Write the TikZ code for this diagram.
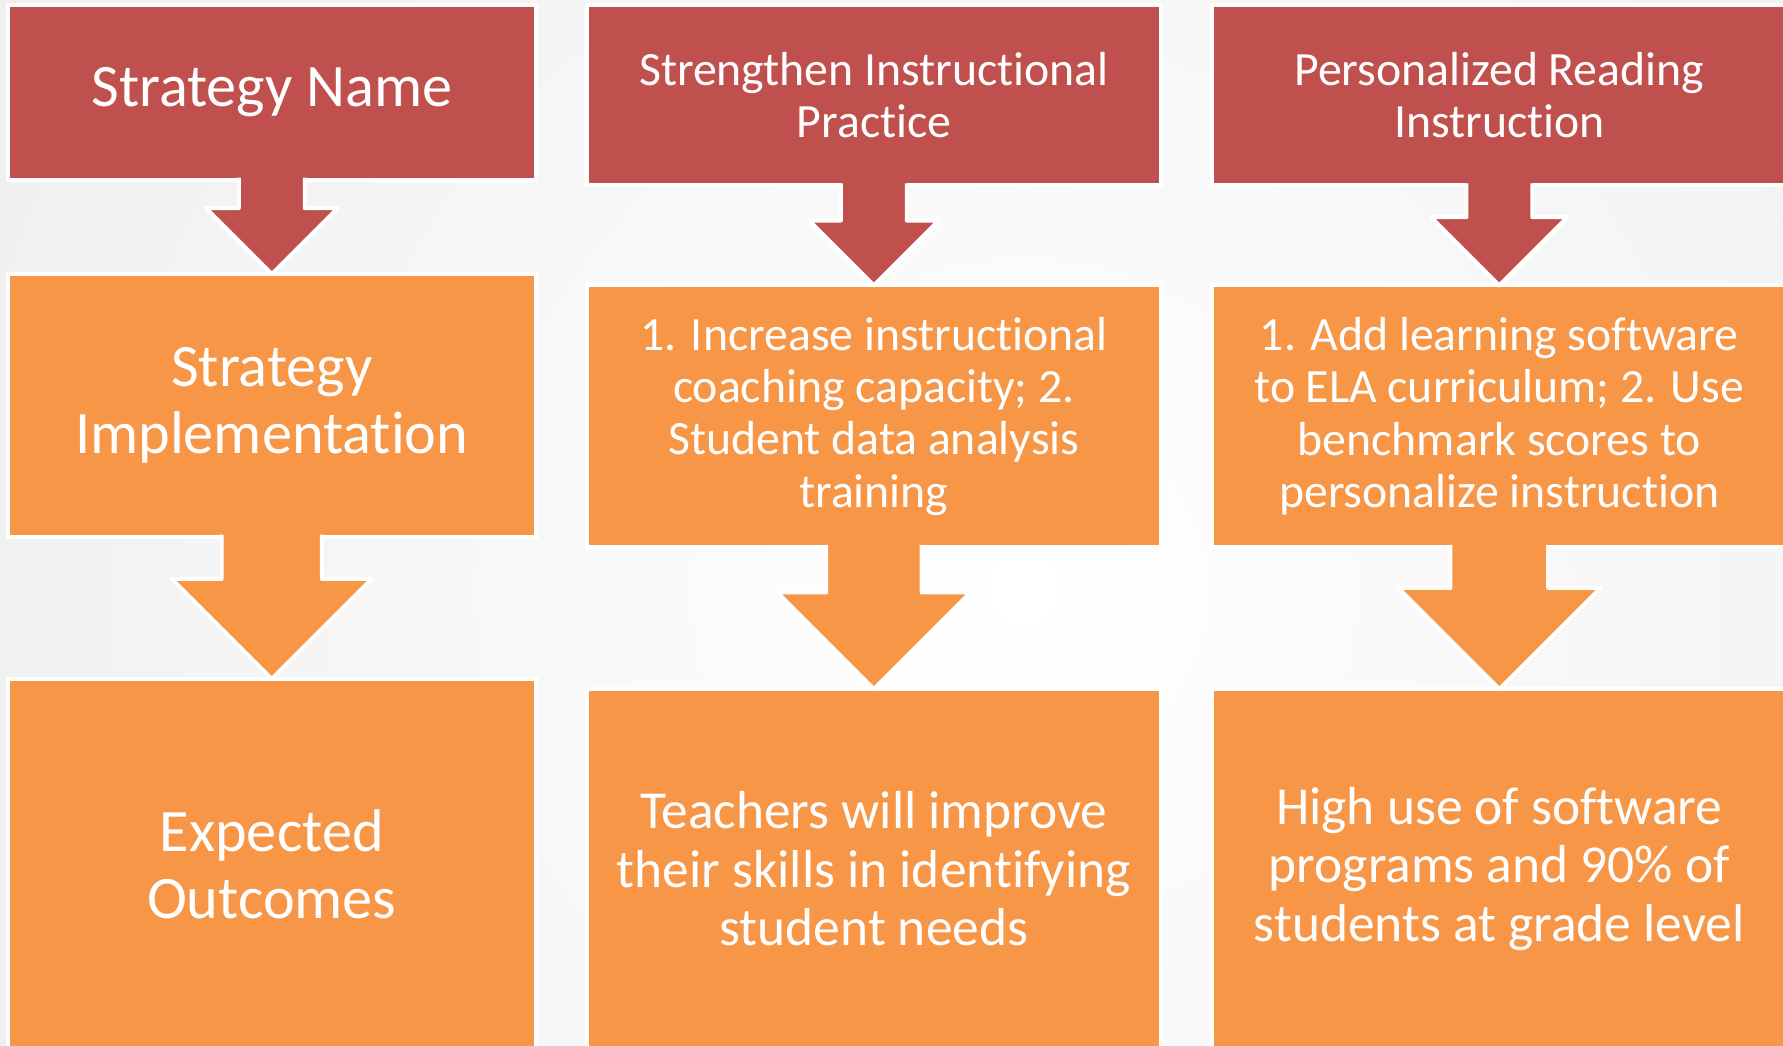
\documentclass[tikz,border=0pt]{standalone}
\usepackage{fontspec}
\setmainfont{Carlito}[Ligatures={NoCommon}]
\usetikzlibrary{calc}
\definecolor{boxred}{HTML}{C0504D}
\definecolor{boxorange}{HTML}{F79646}
\definecolor{bggray}{HTML}{E0E0E0}
% #1 from node, #2 to node, #3 stem half width, #4 head half width, #5 fill colour
\newcommand\blockarrow[5]{%
  \fill[#5] let \p1=(#1.south), \p2=(#2.north) in
    (\x2-#3pt,\y1+6pt) -- (\x2-#3pt,\y2+#4pt) -- (\x2-#4pt,\y2+#4pt) -- (\x2,\y2)
    -- (\x2+#4pt,\y2+#4pt) -- (\x2+#3pt,\y2+#4pt) -- (\x2+#3pt,\y1+6pt) -- cycle;
  \draw[arrowline] let \p1=(#1.south), \p2=(#2.north) in
    (\x2-#3pt,\y1+1.75pt) -- (\x2-#3pt,\y2+#4pt) -- (\x2-#4pt,\y2+#4pt) -- (\x2,\y2)
    -- (\x2+#4pt,\y2+#4pt) -- (\x2+#3pt,\y2+#4pt) -- (\x2+#3pt,\y1+1.75pt);
}
\begin{document}
\begin{tikzpicture}[x=1pt,y=-1pt,
  box/.style={rectangle, draw=white, line width=3.5pt, inner sep=0pt, outer sep=0pt, align=center, text=white},
  redbox/.style={box, fill=boxred},
  orbox/.style={box, fill=boxorange},
  bigtext/.style={font=\fontsize{53}{59}\selectfont},
  midtext/.style={font=\fontsize{42}{46}\selectfont},
  lowtext/.style={font=\fontsize{47}{51.5}\selectfont},
  arrowline/.style={draw=white, line width=3.5pt, line join=round}]
\useasboundingbox (0,0) rectangle (1568,919);
\clip (0,0) rectangle (1568,919);
\shade[inner color=white, outer color=bggray] (900,520) circle (2000pt);

% column 1
\node[redbox, bigtext, minimum width=464pt, minimum height=154pt] (n1) at (239,81) {Strategy Name};
\node[orbox, bigtext, minimum width=464pt, minimum height=231pt] (i1) at (239,356.5) {Strategy\\Implementation};
\node[orbox, bigtext, minimum width=464pt, minimum height=326pt] (o1) at (239,760) {Expected\\Outcomes};

% column 2
\node[redbox, midtext, minimum width=505pt, minimum height=159pt] (n2) at (768.5,83.5) {Strengthen Instructional\\Practice};
\node[orbox, midtext, minimum width=505pt, minimum height=230pt] (i2) at (768.5,366) {1. Increase instructional\\coaching capacity; 2.\\Student data analysis\\training};
\node[orbox, lowtext, minimum width=505pt, minimum height=316pt] (o2) at (768.5,764) {Teachers will improve\\their skills in identifying\\student needs};

% column 3
\node[redbox, midtext, minimum width=505pt, minimum height=159pt] (n3) at (1318.5,83.5) {Personalized Reading\\Instruction};
\node[orbox, midtext, minimum width=505pt, minimum height=230pt] (i3) at (1318.5,366) {1. Add learning software\\to ELA curriculum; 2. Use\\benchmark scores to\\personalize instruction};
\node[orbox, lowtext, minimum width=505pt, minimum height=316pt] (o3) at (1318.5,764) {High use of software\\programs and 90\% of\\students at grade level};

% block arrows
\blockarrow{n1}{i1}{29}{58}{boxred}
\blockarrow{i1}{o1}{44}{88}{boxorange}
\blockarrow{n2}{i2}{29}{57}{boxred}
\blockarrow{i2}{o2}{42}{85}{boxorange}
\blockarrow{n3}{i3}{29}{60}{boxred}
\blockarrow{i3}{o3}{43}{89}{boxorange}
\end{tikzpicture}
\end{document}
